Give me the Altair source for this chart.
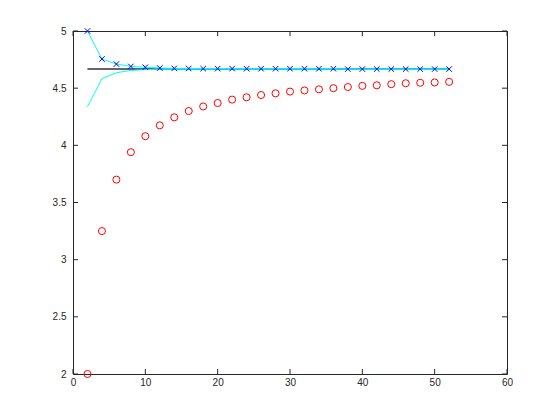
import altair as alt
import pandas as pd

x_vals = [2, 4, 6, 8, 10, 12, 14, 16, 18, 20, 22, 24, 26,
          28, 30, 32, 34, 36, 38, 40, 42, 44, 46, 48, 50, 52]
red_vals = [2.00, 3.25, 3.70, 3.94, 4.08, 4.175, 4.245, 4.30, 4.34, 4.37, 4.40, 4.42, 4.44,
            4.455, 4.47, 4.48, 4.49, 4.50, 4.51, 4.52, 4.525, 4.535, 4.543, 4.547, 4.55, 4.555]
blue_vals = [5.00, 4.755, 4.711, 4.690, 4.683, 4.676, 4.673, 4.672, 4.671, 4.671, 4.671, 4.670, 4.670,
             4.670, 4.670, 4.670, 4.670, 4.670, 4.667, 4.667, 4.667, 4.667, 4.667, 4.667, 4.667, 4.667]
cyan_low_vals = [4.338, 4.583, 4.635, 4.655, 4.662, 4.665, 4.666, 4.6665, 4.6666, 4.6666, 4.6667, 4.6667, 4.6667,
                 4.6667, 4.6667, 4.6667, 4.6667, 4.6667, 4.6667, 4.6667, 4.6667, 4.6667, 4.6667, 4.6667, 4.6667, 4.6667]
exact_x = [2, 52]
exact_vals = [4.6667, 4.6667]
x_ticks = [0, 10, 20, 30, 40, 50, 60]
y_ticks = [2, 2.5, 3, 3.5, 4, 4.5, 5]

W, H = 434, 343
TXT = "#262626"

xscale = alt.Scale(domain=[0, 60], nice=False, zero=False)
yscale = alt.Scale(domain=[2, 5], nice=False, zero=False)
xaxis = alt.Axis(values=x_ticks, title="", grid=False, domain=False, ticks=False,
                 labelPadding=3, labelFlush=False, format="d")
yaxis = alt.Axis(values=y_ticks, title="", grid=False, domain=False, ticks=False,
                 labelPadding=7, labelFlush=False, format=".1~f")


def X():
    return alt.X("x:Q", scale=xscale, axis=xaxis)


def Y():
    return alt.Y("y:Q", scale=yscale, axis=yaxis)


df_red = pd.DataFrame({"x": x_vals, "y": red_vals})
df_blue = pd.DataFrame({"x": x_vals, "y": blue_vals})
df_cyan_low = pd.DataFrame({"x": x_vals, "y": cyan_low_vals})
df_exact = pd.DataFrame({"x": exact_x, "y": exact_vals})
df_xt = pd.DataFrame({"x": x_ticks})
df_yt = pd.DataFrame({"y": y_ticks})

black = alt.Chart(df_exact).mark_line(color="#333333", strokeWidth=1.5).encode(x=X(), y=Y())
cyan_low = alt.Chart(df_cyan_low).mark_line(color="#00ffff", strokeWidth=1).encode(x=X(), y=Y())
cyan_up = alt.Chart(df_blue).mark_line(color="#00ffff", strokeWidth=1).encode(x=X(), y=Y())
blue = alt.Chart(df_blue).mark_point(
    shape="M-1,-1L1,1M-1,1L1,-1", filled=False, color="#0000ff", size=30, strokeWidth=1, opacity=1
).encode(x=X(), y=Y())
red = alt.Chart(df_red).mark_point(
    shape="circle", filled=False, color="#ff0000", size=50, strokeWidth=1, opacity=1
).encode(x=X(), y=Y())

tb = alt.Chart(df_xt).mark_rule(color=TXT, strokeWidth=1).encode(x=X(), y=alt.value(H), y2=alt.value(H - 5))
tt = alt.Chart(df_xt).mark_rule(color=TXT, strokeWidth=1).encode(x=X(), y=alt.value(0), y2=alt.value(5))
tl = alt.Chart(df_yt).mark_rule(color=TXT, strokeWidth=1).encode(y=Y(), x=alt.value(0), x2=alt.value(5))
tr = alt.Chart(df_yt).mark_rule(color=TXT, strokeWidth=1).encode(y=Y(), x=alt.value(W), x2=alt.value(W - 5))

chart = alt.layer(black, cyan_low, cyan_up, blue, red, tb, tt, tl, tr).properties(
    width=W, height=H,
    autosize=alt.AutoSizeParams(type="none"),
    padding={"left": 65, "top": 23, "right": 45, "bottom": 38},
).configure_view(
    stroke=TXT, strokeWidth=1
).configure_axis(
    labelFont="Liberation Sans", labelFontSize=10, labelColor=TXT
)

chart.save("out.html", embed_options={"renderer": "svg", "actions": False})
